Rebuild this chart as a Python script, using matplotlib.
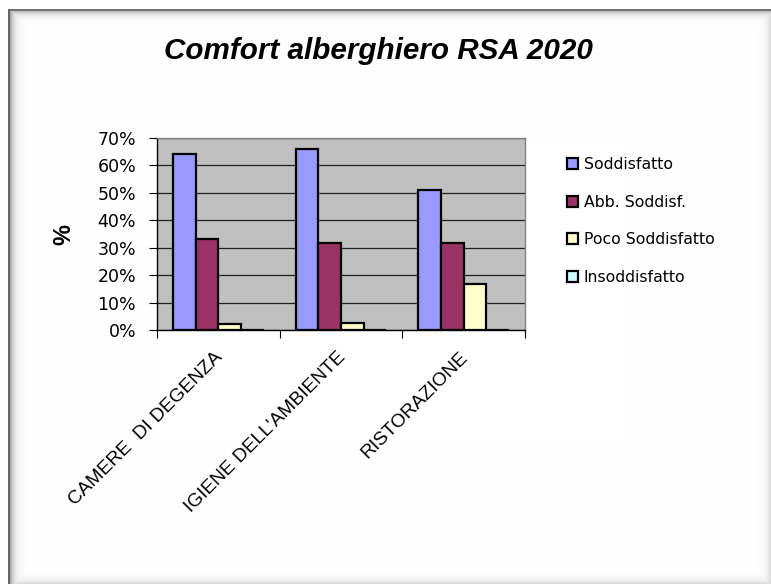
#!/usr/bin/env python3
"""Grouped bar chart: comfort alberghiero RSA 2020."""

import matplotlib
matplotlib.use("Agg")
import matplotlib.pyplot as plt
import numpy as np
from matplotlib.ticker import FixedLocator, PercentFormatter
from matplotlib.transforms import ScaledTranslation

CATEGORIES = ["CAMERE  DI DEGENZA", "IGIENE DELL'AMBIENTE", "RISTORAZIONE"]
SERIES = ["Soddisfatto", "Abb. Soddisf.", "Poco Soddisfatto", "Insoddisfatto"]
SODDISFATTO = [64.2, 65.9, 51.0]
ABB_SODDISF = [33.3, 31.6, 31.6]
POCO_SODDISF = [2.2, 2.4, 16.9]
INSODDISFATTO = [0.0, 0.0, 0.0]
Y_TICKS = [0, 10, 20, 30, 40, 50, 60, 70]

COLORS = ["#9999FF", "#993366", "#FFFFCC", "#CCFFFF"]
BAR_WIDTH = 0.185
W, H = 771, 584

fig = plt.figure(figsize=(W / 100, H / 100), dpi=100)
fig.patch.set_facecolor("white")

# page frame with inner shadow (decoration only)
yy, xx = np.mgrid[0:H, 0:W].astype(float)
x0, y0 = 8, 9
dl = xx - x0
dt = yy - y0
dr = (W + 2) - xx
db = (H + 2) - yy
shade = np.maximum.reduce([
    0.55 * np.exp(-dl / 4.0),
    0.45 * np.exp(-dt / 3.5),
    0.30 * np.exp(-dr / 4.0),
    0.30 * np.exp(-db / 4.0),
])
img = 1.0 - shade
img[(dl < 0) | (dt < 0)] = 1.0
img[(yy >= y0) & (yy < y0 + 2) & (xx >= x0)] = 0.45
img[(xx >= x0) & (xx < x0 + 2) & (yy >= y0)] = 0.40
fig.figimage(np.dstack([img, img, img]), xo=0, yo=0, origin="upper", zorder=-5)

ax = fig.add_axes([157 / W, 1 - 330 / H, 368 / W, 192 / H])
ax.set_zorder(5)
ax.set_facecolor("#C0C0C0")

x = np.arange(len(CATEGORIES))
values = [SODDISFATTO, ABB_SODDISF, POCO_SODDISF, INSODDISFATTO]
for i, (name, vals, color) in enumerate(zip(SERIES, values, COLORS)):
    ax.bar(x + (i - 1.5) * BAR_WIDTH, vals, BAR_WIDTH, color=color,
           edgecolor="black", linewidth=1.6, label=name, zorder=3)

ax.set_xlim(-0.5, len(CATEGORIES) - 0.5)
ax.set_ylim(0, 70)
ax.yaxis.set_major_locator(FixedLocator(Y_TICKS))
ax.yaxis.set_major_formatter(PercentFormatter(decimals=0))
ax.grid(True, axis="y", color="#202020", linewidth=0.9, zorder=1)
ax.set_axisbelow(True)

for side in ["top", "right"]:
    ax.spines[side].set_color("#808080")
    ax.spines[side].set_linewidth(1.0)
for side in ["left", "bottom"]:
    ax.spines[side].set_color("black")
    ax.spines[side].set_linewidth(1.0)

ax.tick_params(axis="y", direction="out", length=6, width=0.8, labelsize=12.5, pad=9)
for lbl in ax.get_yticklabels():
    lbl.set_family("DejaVu Sans")

ax.set_xticks(np.arange(len(CATEGORIES) + 1) - 0.5)
ax.set_xticklabels([])
ax.tick_params(axis="x", direction="out", length=6, width=0.8)
ax.set_xticks(x, minor=True)
ax.set_xticklabels(CATEGORIES, minor=True, rotation=45, ha="right", va="center",
                   rotation_mode="anchor", fontsize=13.8, family="Liberation Sans")
ax.tick_params(axis="x", which="minor", length=0, pad=18)
shift = ScaledTranslation(2 / 100, 0, fig.dpi_scale_trans)
for lbl in ax.get_xticklabels(minor=True):
    lbl.set_transform(lbl.get_transform() + shift)

ax.set_ylabel("%", fontsize=17, fontweight="bold", family="Liberation Sans", labelpad=16)

fig.text(0.491, 1 - 51 / H, "Comfort alberghiero RSA 2020", ha="center", va="center",
         fontsize=21.3, fontweight="bold", fontstyle="italic", family="Liberation Sans",
         zorder=6)

ax.legend(loc="upper left", bbox_to_anchor=(1.098, 0.935), frameon=False,
          fontsize=11.3, handlelength=0.7, handleheight=0.7,
          handletextpad=0.35, labelspacing=1.45, borderaxespad=0)

fig.savefig("out.png", dpi=100)
